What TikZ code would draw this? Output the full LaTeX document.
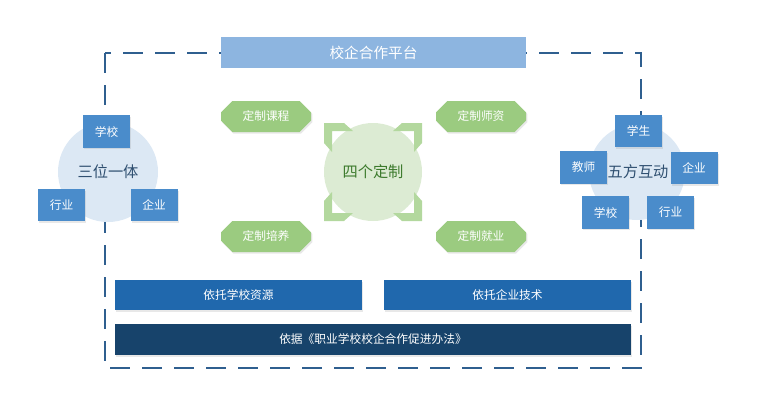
\documentclass[tikz,border=0pt]{standalone}
\usepackage{fontspec}
\setmainfont{Noto Sans CJK SC}
\usetikzlibrary{shapes.misc,shadows}
\definecolor{framecol}{HTML}{2F5F8F}
\definecolor{topbar}{HTML}{8DB5E0}
\definecolor{ringblue}{HTML}{DCE8F4}
\definecolor{boxblue}{HTML}{4A8CCB}
\definecolor{tagreen}{HTML}{9BCB80}
\definecolor{ringgreen}{HTML}{DCEBD3}
\definecolor{cornergreen}{HTML}{B3D89E}
\definecolor{midbar}{HTML}{2068AD}
\definecolor{darkbar}{HTML}{17436B}
\definecolor{ringtext}{HTML}{2F4F70}
\definecolor{greentext}{HTML}{3C7A2C}
\tikzstyle{shd}=[drop shadow={opacity=0.18,shadow xshift=0.04cm,shadow yshift=-0.05cm}]
\tikzstyle{bx}=[shd,fill=boxblue,text=white,minimum width=1.41cm,minimum height=0.97cm,inner sep=1pt,font=\fontsize{10}{12}\selectfont]
\tikzstyle{tag}=[shd,chamfered rectangle,chamfered rectangle xsep=0.17cm,chamfered rectangle ysep=0.17cm,fill=tagreen,text=white,minimum width=2.7cm,minimum height=0.93cm,inner sep=1pt,font=\fontsize{10}{12}\selectfont]
\tikzstyle{bar}=[shd,text=white,minimum height=0.91cm,inner sep=1pt,font=\fontsize{10}{12}\selectfont]

\begin{document}
\begin{tikzpicture}[x=0.03cm,y=-0.03cm]
\useasboundingbox (0,0) rectangle (768,409);
% frame
\draw[framecol,line width=2.4pt,dash pattern=on 0.6cm off 0.36cm] (105,53) rectangle (641,368);
\node[fill=topbar,text=white,minimum width=9.15cm,minimum height=0.93cm,font=\fontsize{12.5}{14}\selectfont] (platform) at (373.5,52.5) {校企合作平台};
% left ring
\fill[ringblue] (108,172) circle (50);
\node[text=ringtext,font=\fontsize{13}{15}\selectfont] (sanwei) at (108,172) {三位一体};
\node[bx] (lschool) at (106.5,131.5) {学校};
\node[bx] (lhang) at (61.5,205) {行业};
\node[bx] (lqiye) at (154,205) {企业};
% right ring
\fill[ringblue] (637,172) circle (48);
\node[text=ringtext,font=\fontsize{13}{15}\selectfont] (wufang) at (638,172) {五方互动};
\node[bx] (rstudent) at (638.5,131) {学生};
\node[bx] (rteacher) at (583.5,167.5) {教师};
\node[bx] (rqiye) at (694,168) {企业};
\node[bx] (rschool) at (605.5,212.5) {学校};
\node[bx] (rhang) at (670.5,212.5) {行业};
% center
\fill[ringgreen] (373,172) circle (49);
\foreach \a in {0,90,180,270}
  \fill[cornergreen,shift={(373,172)},rotate=\a] (-49,-49) -- (-29,-49) -- (-20,-41) -- (-41,-41) -- (-41,-20) -- (-49,-29) -- cycle;
\node[text=greentext,font=\fontsize{13}{15}\selectfont] (sige) at (373,172) {四个定制};
\node[tag] (kecheng) at (266,116.5) {定制课程};
\node[tag] (peiyang) at (266,236.5) {定制培养};
\node[tag] (shizi) at (481,116.5) {定制师资};
\node[tag] (jiuye) at (481,236.5) {定制就业};
% bottom
\node[bar,fill=midbar,minimum width=7.41cm] (xuexiao) at (238.5,295) {依托学校资源};
\node[bar,fill=midbar,minimum width=7.41cm] (jishu) at (507.5,295) {依托企业技术};
\node[bar,fill=darkbar,minimum width=15.48cm,minimum height=0.93cm] (banfa) at (373,339.5) {依据《职业学校校企合作促进办法》};
\end{tikzpicture}
\end{document}
